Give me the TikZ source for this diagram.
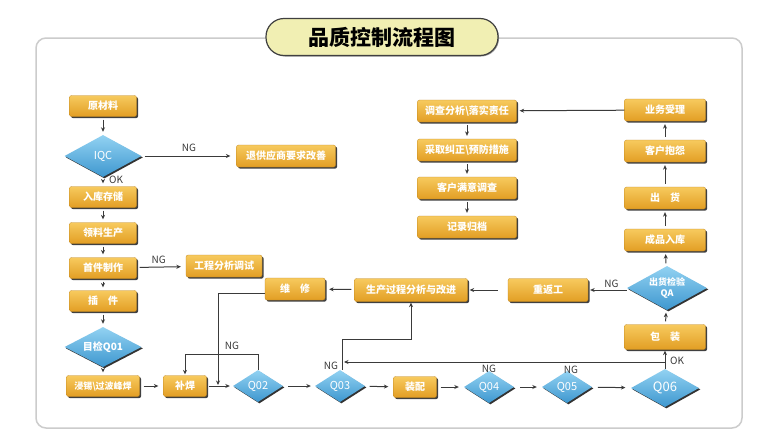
\documentclass[tikz,border=0pt]{standalone}
\usepackage{fontspec}
\setmainfont{Noto Sans CJK SC}
\usetikzlibrary{arrows.meta,shapes.geometric,shadows,calc}
\definecolor{obox1}{HTML}{F7CA5E}
\definecolor{obox2}{HTML}{E29E24}
\definecolor{dia1}{HTML}{92D2F2}
\definecolor{dia2}{HTML}{3E97CF}
\definecolor{arr}{HTML}{3A3A3A}
\definecolor{pillc}{HTML}{F1EFB3}
\begin{document}
\begin{tikzpicture}[x=1pt,y=-1pt,
  obox/.style={rectangle, rounded corners=2pt, top color=obox1, bottom color=obox2,
    draw=obox2!85!black, line width=0.3pt, text=white, inner sep=0pt,
    font=\fontsize{10}{12}\selectfont\bfseries,
    drop shadow={shadow xshift=1.6pt, shadow yshift=-1.6pt, fill=black!75, opacity=1}},
  lw/.style={minimum width=67pt, minimum height=21pt},
  rw/.style={minimum width=81pt, minimum height=22pt},
  mw/.style={minimum width=99pt, minimum height=22pt},
  dia/.style={diamond, aspect=1.7, top color=dia1, bottom color=dia2, draw=none,
    text=white, inner sep=0pt, font=\fontsize{11}{12}\selectfont,
    drop shadow={shadow xshift=1.4pt, shadow yshift=-1.4pt, fill=black!80, opacity=1}},
  qd/.style={dia, minimum width=50pt, minimum height=32pt},
  conn/.style={draw=arr, line width=1pt, -{Stealth[length=4.5pt,width=4pt]}, shorten >=3pt, shorten <=3pt},
  line/.style={draw=arr, line width=1pt},
  lab/.style={text=arr, inner sep=0pt, font=\fontsize{10}{12}\selectfont}
]
\fill[white] (0,0) rectangle (760,442);
\useasboundingbox (0,0) rectangle (760,442);
% frame
\draw[black!20, line width=1.5pt, rounded corners=10pt] (36,38) rectangle (742,428);
% title
\node[draw=black!75, line width=1.2pt, fill=pillc, rounded corners=18pt,
      minimum width=232pt, minimum height=37pt, inner sep=0pt,
      font=\fontsize{21}{24}\selectfont\bfseries,
      drop shadow={shadow xshift=1pt, shadow yshift=-1pt, fill=black!40, opacity=1}]
      (title) at (382,37) {品质控制流程图};

% left column
\node[obox, lw] (raw) at (103,106) {原材料};
\node[dia, minimum width=77pt, minimum height=42pt] (iqc) at (103,156) {IQC};
\node[obox, mw] (ret) at (286,156) {退供应商要求改善};
\node[obox, lw] (store) at (103,197) {入库存储};
\node[obox, lw] (pick) at (103,233) {领料生产};
\node[obox, lw] (first) at (103,268) {首件制作};
\node[obox, minimum width=76pt, minimum height=22pt] (eng) at (224,266) {工程分析调试};
\node[obox, lw] (plug) at (103,301) {插\quad 件};
\node[dia, minimum width=77pt, minimum height=40pt, font=\fontsize{10}{12}\selectfont\bfseries] (q01) at (103,347) {目检Q01};
\node[obox, minimum width=73pt, minimum height=21pt, font=\fontsize{9}{11}\selectfont\bfseries] (wave) at (103,386) {浸锡\textbackslash 过波峰焊};

% bottom row
\node[obox, minimum width=43pt, minimum height=21pt] (rep) at (185,386) {补焊};
\node[qd] (q02) at (258,386) {Q02};
\node[qd] (q03) at (340,386) {Q03};
\node[obox, minimum width=43pt, minimum height=21pt] (asm) at (415,387) {装配};
\node[qd] (q04) at (489,387) {Q04};
\node[qd] (q05) at (567,387) {Q05};
\node[dia, minimum width=68pt, minimum height=38pt, font=\fontsize{13}{14}\selectfont] (q06) at (665,388) {Q06};

% right column
\node[obox, minimum width=81pt, minimum height=25pt] (pack) at (665,337) {包\quad 装};
\node[dia, minimum width=80pt, minimum height=44pt, align=center,
      font=\fontsize{9}{10.5}\selectfont\bfseries] (qa) at (667,288) {出货检验\\QA};
\node[obox, rw] (fin) at (665,240) {成品入库};
\node[obox, rw] (ship) at (665,198) {出\quad 货};
\node[obox, rw] (comp) at (665,151) {客户抱怨};
\node[obox, rw] (biz) at (665,110) {业务受理};

% middle column
\node[obox, mw] (inv) at (467,111) {调查分析\textbackslash 落实责任};
\node[obox, mw] (corr) at (467,150) {采取纠正\textbackslash 预防措施};
\node[obox, mw] (sat) at (467,188) {客户满意调查};
\node[obox, mw] (rec) at (467,227) {记录归档};

% middle row
\node[obox, minimum width=80pt, minimum height=23pt] (rew) at (548,290) {重返工};
\node[obox, minimum width=113pt, minimum height=23pt] (proc) at (411,290) {生产过程分析与改进};
\node[obox, minimum width=60pt, minimum height=22pt] (fix) at (295,289) {维\quad 修};

% connectors left column
\draw[conn] (raw) -- (iqc);
\draw[conn, shorten >=6pt] (iqc) -- node[lab, above=4pt] {NG} (ret);
\draw[conn] (iqc) -- (store);
\node[lab, anchor=west] (okiqc) at (109,180) {OK};
\draw[conn] (store) -- (pick);
\draw[conn] (pick) -- (first);
\draw[conn, shorten >=5pt] (first) -- node[lab, above=3pt, pos=0.45] {NG} (eng);
\draw[conn] (first) -- (plug);
\draw[conn] (plug) -- (q01);
\draw[conn] (q01) -- (wave);

% bottom row
\draw[conn, shorten >=5pt, shorten <=4pt] (wave) -- (rep);
\draw[conn, shorten <=2pt] (rep) -- (q02);
\draw[conn, shorten >=4pt, shorten <=5pt] (q02) -- (q03);
\draw[conn, shorten >=5pt, shorten <=5pt] (q03) -- (asm);
\draw[conn, shorten >=5pt, shorten <=4pt] (asm) -- (q04);
\draw[conn, shorten >=5pt, shorten <=6pt] (q04) -- (q05);
\draw[conn, shorten >=6pt, shorten <=6pt] (q05) -- (q06);

% Q02 NG loop
\coordinate (q2top) at (258,354);
\draw[conn, shorten <=0pt, shorten >=1pt] (q02.north) -- (q2top) -| (rep.north);
\node[lab] (ng2) at (232,346) {NG};

% repair feedback
\coordinate (fixbend) at (218,293);
\coordinate (fixend) at (218,385);
\draw[conn, shorten <=0pt, shorten >=0pt] (fix.west |- fixbend) -- (fixbend) -- (fixend);

% Q03 NG to process analysis
\coordinate (q3bend) at (342,339);
\draw[conn, shorten <=0pt, shorten >=1pt] (q03.north -| q3bend) -- (q3bend) -| (proc.south);
\node[lab] (ng3) at (331,366) {NG};

% Q06 OK to pack, with NG return line
\draw[conn, shorten <=0pt, shorten >=1pt] (q06.north) -- (pack.south);
\node[lab, anchor=west] (ok6) at (670,361) {OK};
\coordinate (okj) at (665,362);
\coordinate (q3j) at (342,362);
\draw[conn, shorten <=0pt, shorten >=2pt] (okj) -- (q3j);
\node[lab] (ng4) at (489,369) {NG};
\node[lab] (ng5) at (571,370) {NG};

% right column
\draw[conn] (pack) -- (qa);
\draw[conn] (qa) -- (fin);
\draw[conn] (fin) -- (ship);
\draw[conn] (ship) -- (comp);
\draw[conn] (comp) -- (biz);
\draw[conn, shorten <=0pt] (biz) -- (inv);
\draw[conn] (inv) -- (corr);
\draw[conn] (corr) -- (sat);
\draw[conn] (sat) -- (rec);

% middle row
\draw[conn, shorten <=0pt, shorten >=2pt] (qa.west |- rew.east) -- node[lab, above=2pt, pos=0.4] {NG} (rew.east);
\draw[conn, shorten >=2pt, shorten <=10pt] (rew) -- (proc);
\draw[conn, shorten >=4pt, shorten <=3pt] (proc) -- (fix);
\end{tikzpicture}
\end{document}
